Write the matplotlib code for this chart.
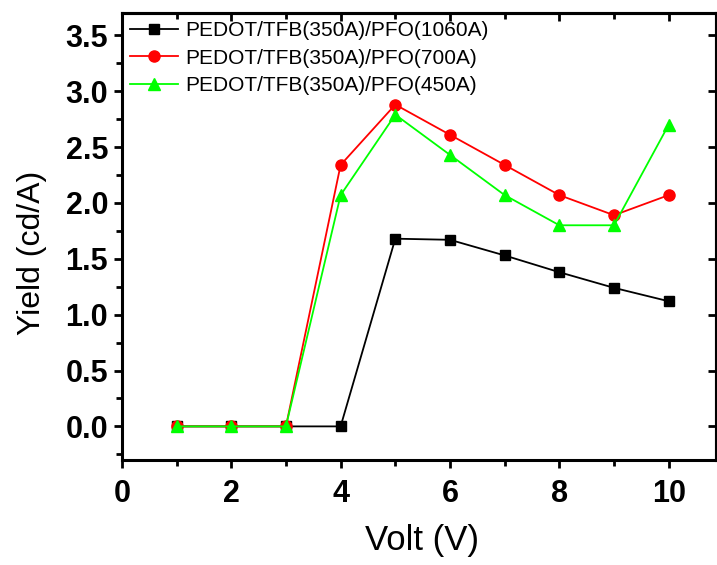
import numpy as np
import matplotlib
matplotlib.use('Agg')
import matplotlib.pyplot as plt
from matplotlib.ticker import MultipleLocator

plt.rcParams['font.family'] = ['Liberation Sans', 'DejaVu Sans']

# Данные: яркость в зависимости от напряжения
volt = [1, 2, 3, 4, 5, 6, 7, 8, 9, 10]
yield_1060 = [0, 0, 0, 0, 1.68, 1.67, 1.53, 1.38, 1.24, 1.12]
yield_700 = [0, 0, 0, 2.34, 2.88, 2.61, 2.34, 2.07, 1.89, 2.07]
yield_450 = [0, 0, 0, 2.07, 2.79, 2.43, 2.07, 1.80, 1.80, 2.70]
labels = ['PEDOT/TFB(350A)/PFO(1060A)',
          'PEDOT/TFB(350A)/PFO(700A)',
          'PEDOT/TFB(350A)/PFO(450A)']

fig = plt.figure(figsize=(7.17, 5.65), dpi=100)
ax = fig.add_axes([0.170, 0.186, 0.829, 0.791])

ax.plot(volt, yield_1060, 'k-', marker='s', markersize=7, lw=1.3, label=labels[0])
ax.plot(volt, yield_700, '-', color='#ff0000', marker='o', markersize=8, lw=1.3, label=labels[1])
ax.plot(volt, yield_450, '-', color='#00ff00', marker='^', markersize=9, lw=1.3, label=labels[2])

ax.set_xlim(0, 10.87)
ax.set_ylim(-0.3, 3.7)
ax.xaxis.set_major_locator(MultipleLocator(2))
ax.xaxis.set_minor_locator(MultipleLocator(1))
ax.yaxis.set_major_locator(MultipleLocator(0.5))
ax.yaxis.set_minor_locator(MultipleLocator(0.25))
ax.yaxis.set_major_formatter(plt.FormatStrFormatter('%.1f'))

for s in ax.spines.values():
    s.set_linewidth(2.2)

ax.tick_params(which='both', direction='out', width=2, labelsize=22, pad=4)
ax.tick_params(axis='x', which='major', pad=8)
ax.tick_params(which='major', length=6)
ax.tick_params(which='minor', length=4)
for lab in ax.get_xticklabels() + ax.get_yticklabels():
    lab.set_fontweight('bold')

# Засечки сверху и справа внутрь
top = ax.secondary_xaxis('top')
top.xaxis.set_major_locator(MultipleLocator(2))
top.xaxis.set_minor_locator(MultipleLocator(1))
top.tick_params(which='both', direction='in', width=2, labeltop=False)
top.tick_params(which='major', length=6)
top.tick_params(which='minor', length=4)
top.spines['top'].set_linewidth(2.2)

right = ax.secondary_yaxis('right')
right.yaxis.set_major_locator(MultipleLocator(0.5))
right.tick_params(which='both', direction='in', width=2, labelright=False)
right.tick_params(which='major', length=6)
right.spines['right'].set_linewidth(2.2)

ax.set_xlabel('Volt (V)', fontsize=25)
ax.set_ylabel('Yield (cd/A)', fontsize=23)
# положение подписей осей в пикселях фигуры
ax.xaxis.set_label_coords(422 / 717, 1 - 524 / 565, transform=fig.transFigure)
ax.yaxis.set_label_coords(47 / 717, 1 - 253 / 565, transform=fig.transFigure)

ax.legend(loc='upper left', frameon=False, fontsize=15, handlelength=2.3,
          handletextpad=0.35, labelspacing=0.4, borderaxespad=0.1,
          borderpad=0.3)

fig.savefig('out.png', dpi=100)
